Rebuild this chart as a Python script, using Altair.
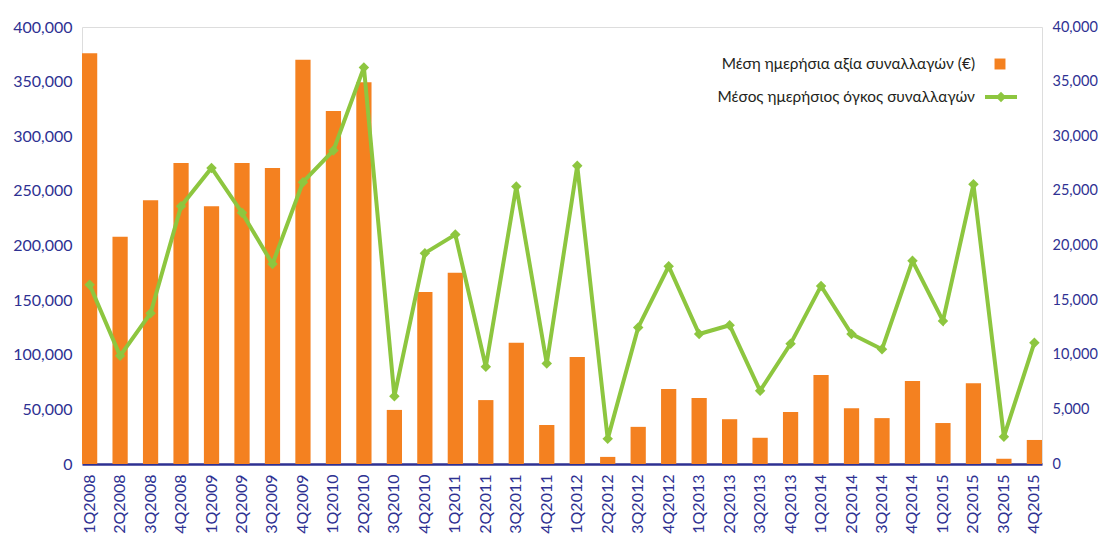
import altair as alt
import pandas as pd

quarters = ["1Q2008","2Q2008","3Q2008","4Q2008","1Q2009","2Q2009","3Q2009","4Q2009",
            "1Q2010","2Q2010","3Q2010","4Q2010","1Q2011","2Q2011","3Q2011","4Q2011",
            "1Q2012","2Q2012","3Q2012","4Q2012","1Q2013","2Q2013","3Q2013","4Q2013",
            "1Q2014","2Q2014","3Q2014","4Q2014","1Q2015","2Q2015","3Q2015","4Q2015"]
value_eur = [376000, 208000, 241500, 275500, 236000, 275500, 271000, 370000,
             323000, 349500, 49500, 157500, 175000, 58500, 111000, 35700,
             98000, 6500, 34000, 68600, 60500, 41000, 24000, 47500,
             81500, 51000, 42000, 76000, 37500, 74000, 4800, 22000]
volume = [16400, 9900, 13800, 23600, 27100, 23000, 18300, 25800,
          28700, 36300, 6200, 19300, 21000, 8900, 25400, 9200,
          27300, 2300, 12500, 18100, 11900, 12700, 6700, 11000,
          16300, 11900, 10500, 18600, 13100, 25600, 2500, 11100]
legend_labels = ["Μέση ημερήσια αξία συναλλαγών (€)", "Μέσος ημερήσιος όγκος συναλλαγών"]

ORANGE = "#F48120"
GREEN = "#8DC63F"
BLUE = "#2E3192"
FONT = "Lato"

df = pd.DataFrame({"q": quarters, "value": value_eur, "volume": volume})

xenc = alt.X("q:N", sort=quarters, title=None,
             scale=alt.Scale(paddingInner=0.5, paddingOuter=0),
             axis=alt.Axis(labelAngle=-90, labelColor=BLUE, labelFont=FONT, labelFontSize=16,
                           labelPadding=10, ticks=False, domainColor=BLUE, domainWidth=2.5))

bars = alt.Chart(df).mark_bar(color=ORANGE).encode(
    x=xenc,
    y=alt.Y("value:Q", title=None,
            scale=alt.Scale(domain=[0, 400000], nice=False),
            axis=alt.Axis(orient="left", format=",.0f", values=list(range(0, 400001, 50000)),
                          labelColor=BLUE, labelFont=FONT, labelFontSize=16, labelPadding=10,
                          ticks=False, domain=False, grid=False)),
)

line = alt.Chart(df).mark_line(color=GREEN, strokeWidth=4,
                               point=alt.OverlayMarkDef(shape="diamond", size=110, color=GREEN, filled=True, opacity=1)).encode(
    x=alt.X("q:N", sort=quarters),
    y=alt.Y("volume:Q", title=None,
            scale=alt.Scale(domain=[0, 40000], nice=False),
            axis=alt.Axis(orient="right", format=",.0f", values=list(range(0, 40001, 5000)),
                          labelColor=BLUE, labelFont=FONT, labelFontSize=14.5, labelPadding=10,
                          ticks=False, domain=False, grid=False)),
)

leg_df = pd.DataFrame({"label": legend_labels})

leg_text1 = alt.Chart(leg_df).transform_filter(alt.datum.label == legend_labels[0]).mark_text(
    align="right", baseline="middle", font=FONT, fontSize=15.4, color="#231F20"
).encode(text="label:N", x=alt.value(893), y=alt.value(37))
leg_text2 = alt.Chart(leg_df).transform_filter(alt.datum.label == legend_labels[1]).mark_text(
    align="right", baseline="middle", font=FONT, fontSize=15.4, color="#231F20"
).encode(text="label:N", x=alt.value(893), y=alt.value(70))
leg_sq = alt.Chart(leg_df).transform_filter(alt.datum.label == legend_labels[0]).mark_square(
    color=ORANGE, size=120, opacity=1).encode(x=alt.value(918), y=alt.value(37))
leg_ln = alt.Chart(leg_df).transform_filter(alt.datum.label == legend_labels[1]).mark_rule(
    color=GREEN, strokeWidth=4).encode(x=alt.value(903), x2=alt.value(935), y=alt.value(70))
leg_dm = alt.Chart(leg_df).transform_filter(alt.datum.label == legend_labels[1]).mark_point(
    shape="diamond", size=110, color=GREEN, filled=True, opacity=1).encode(x=alt.value(919), y=alt.value(70))

chart = alt.layer(bars, line, leg_text1, leg_text2, leg_sq, leg_ln, leg_dm).resolve_scale(
    y="independent"
).properties(
    width=960, height=437,
    autosize=alt.AutoSizeParams(type="none"),
    padding={"left": 74, "top": 19, "right": 56, "bottom": 70},
).configure_view(stroke=None).configure(background="white")

chart.save("out.html", embed_options={"renderer": "svg", "actions": False})
